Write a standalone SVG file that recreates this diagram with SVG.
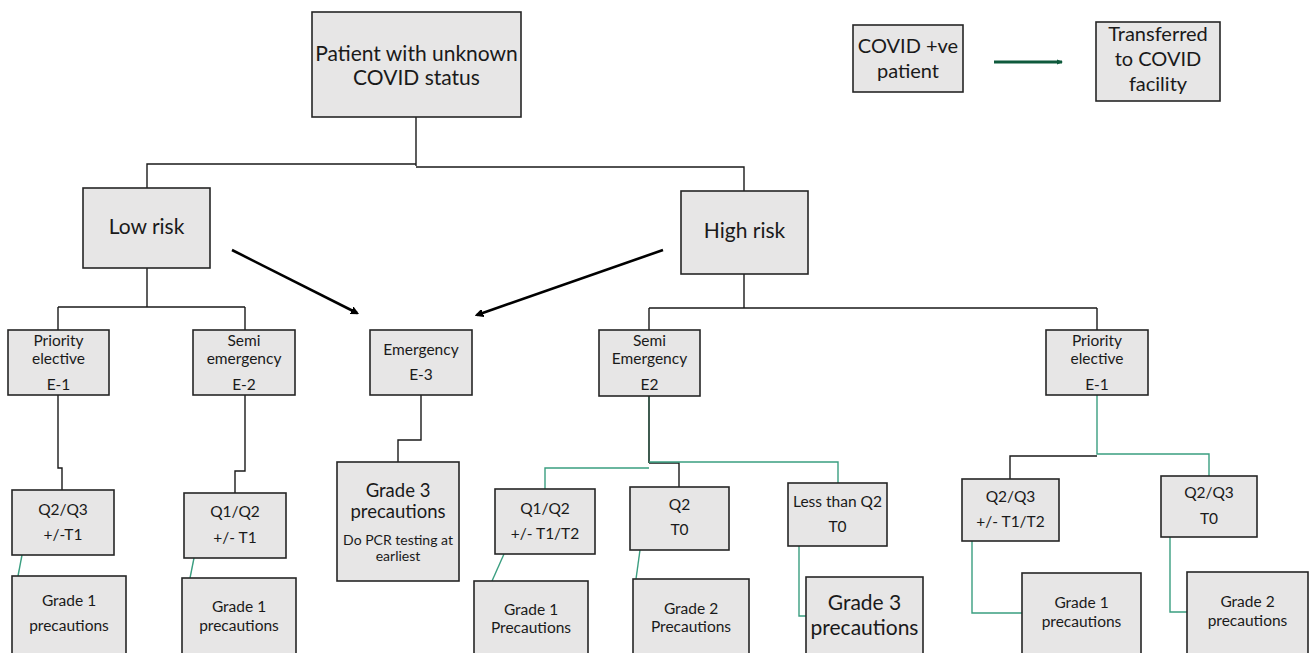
<svg xmlns="http://www.w3.org/2000/svg" width="1310" height="653" viewBox="0 0 1310 653">
<style>
.box{fill:#e7e6e6;stroke:#262626;stroke-width:1.6}
text{font-family:Lato,"Open Sans","Liberation Sans",sans-serif;fill:#1a1a1a;text-anchor:middle}
.s14{font-size:15.5px}
.s19{font-size:21px}
.s18{font-size:20px}
.k{fill:none;stroke:#1a1a1a;stroke-width:1.4}
.g{fill:none;stroke:#3a9e80;stroke-width:1.4}
.a{fill:none;stroke:#000;stroke-width:2.6}
</style>
<defs>
<marker id="ah" markerWidth="8" markerHeight="8" refX="6" refY="4" orient="auto" markerUnits="userSpaceOnUse" viewBox="0 0 8 8">
<path d="M0,0 L8,4 L0,8 z" fill="#000" transform="scale(1.3) translate(-1.5,-0.9)"/>
</marker>
<marker id="gh" markerWidth="6" markerHeight="6" refX="5" refY="3" orient="auto" markerUnits="userSpaceOnUse">
<path d="M0,0.5 L6,3 L0,5.5 z" fill="#0e5a3c"/>
</marker>
</defs>

<g id="connectors">
<path class="k" d="M416,117 V166 M416,164 H147 V188 M416,167 H744 V191"/>
<path class="k" d="M147,268 V307 M58,307 H245 M58,307 V330 M245,307 V330"/>
<path class="k" d="M744,274 V308 M649,308 H1097 M649,308 V330 M1097,308 V330"/>
<path class="k" d="M58,395 V468 H62 V490"/>
<path class="k" d="M245,395 V471 H235 V493"/>
<path class="k" d="M421,395 V440 H398 V462"/>
<path class="g" d="M22,555 L18,576"/>
<path class="g" d="M194,558 L190,578"/>
<path d="M649,396 V463" fill="none" stroke="#0f3324" stroke-width="1.6"/>
<path class="k" d="M649,463 H679 V487"/>
<path class="g" d="M649,468 H545 V489"/>
<path class="g" d="M649,462 H838 V483"/>
<path class="g" d="M504,554 L492,581"/>
<path class="g" d="M640,550 L636,579"/>
<path class="g" d="M799,546 V616 H806"/>
<path class="g" d="M1097,395 V454 H1209 V476"/>
<path class="k" d="M1097,456 H1010 V479"/>
<path class="g" d="M972,541 V613 H1022"/>
<path class="g" d="M1170,537 V612 H1187"/>
<line class="a" x1="232" y1="250" x2="357" y2="313" marker-end="url(#ah)"/>
<line class="a" x1="663" y1="250" x2="477" y2="315" marker-end="url(#ah)"/>
<line x1="994" y1="62" x2="1062" y2="62" stroke="#0e5a3c" stroke-width="3" marker-end="url(#gh)"/>
</g>

<g id="n-patient">
<rect class="box" x="312" y="12" width="209" height="105"/>
<text class="s19" x="416.5" y="61">Patient with unknown</text>
<text class="s19" x="416.5" y="85">COVID status</text>
</g>

<g id="n-covid-pos">
<rect class="box" x="853" y="25" width="110" height="67"/>
<text class="s18" x="908" y="53">COVID +ve</text>
<text class="s18" x="908" y="78">patient</text>
</g>

<g id="n-transferred">
<rect class="box" x="1096" y="22" width="124" height="79"/>
<text class="s18" x="1158" y="41">Transferred</text>
<text class="s18" x="1158" y="66">to COVID</text>
<text class="s18" x="1158" y="91">facility</text>
</g>

<g id="n-low">
<rect class="box" x="83" y="188" width="127" height="80"/>
<text class="s19" x="146.5" y="234">Low risk</text>
</g>

<g id="n-high">
<rect class="box" x="681" y="191" width="127" height="83"/>
<text class="s19" x="744.5" y="238">High risk</text>
</g>

<g id="n-low-e1">
<rect class="box" x="8" y="330" width="101" height="65"/>
<text class="s14" x="58.5" y="346">Priority</text>
<text class="s14" x="58.5" y="364">elective</text>
<text class="s14" x="58.5" y="390">E-1</text>
</g>

<g id="n-low-e2">
<rect class="box" x="193" y="330" width="102" height="65"/>
<text class="s14" x="244" y="346">Semi</text>
<text class="s14" x="244" y="364">emergency</text>
<text class="s14" x="244" y="390">E-2</text>
</g>

<g id="n-e3">
<rect class="box" x="370" y="330" width="102" height="65"/>
<text class="s14" x="421" y="355">Emergency</text>
<text class="s14" x="421" y="380">E-3</text>
</g>

<g id="n-high-e2">
<rect class="box" x="599" y="330" width="101" height="66"/>
<text class="s14" x="649.5" y="346">Semi</text>
<text class="s14" x="649.5" y="364">Emergency</text>
<text class="s14" x="649.5" y="390">E2</text>
</g>

<g id="n-high-e1">
<rect class="box" x="1046" y="330" width="102" height="65"/>
<text class="s14" x="1097" y="346">Priority</text>
<text class="s14" x="1097" y="364">elective</text>
<text class="s14" x="1097" y="390">E-1</text>
</g>

<g id="n-q23-t1">
<rect class="box" x="12" y="490" width="102" height="65"/>
<text class="s14" x="63" y="515">Q2/Q3</text>
<text class="s14" x="63" y="540">+/-T1</text>
</g>

<g id="n-q12-t1">
<rect class="box" x="184" y="493" width="102" height="65"/>
<text class="s14" x="235" y="517">Q1/Q2</text>
<text class="s14" x="235" y="543">+/- T1</text>
</g>

<g id="n-g1-a">
<rect class="box" x="12" y="576" width="114" height="80"/>
<text class="s14" x="69" y="606">Grade 1</text>
<text class="s14" x="69" y="631">precautions</text>
</g>

<g id="n-g1-b">
<rect class="box" x="182" y="578" width="114" height="78"/>
<text class="s14" x="239" y="612">Grade 1</text>
<text class="s14" x="239" y="631">precautions</text>
</g>

<g id="n-g3-pcr">
<rect class="box" x="337" y="462" width="122" height="119"/>
<text style="font-size:18.5px" x="398" y="497">Grade 3</text>
<text style="font-size:18.5px" x="398" y="518">precautions</text>
<text style="font-size:14px" x="398" y="545">Do PCR testing at</text>
<text style="font-size:14px" x="398" y="561">earliest</text>
</g>

<g id="n-q12-t12">
<rect class="box" x="495" y="489" width="100" height="65"/>
<text class="s14" x="545" y="514">Q1/Q2</text>
<text class="s14" x="545" y="539">+/- T1/T2</text>
</g>

<g id="n-q2-t0">
<rect class="box" x="630" y="487" width="99" height="63"/>
<text class="s14" x="679.5" y="510">Q2</text>
<text class="s14" x="679.5" y="535">T0</text>
</g>

<g id="n-lt-q2">
<rect class="box" x="788" y="483" width="99" height="63"/>
<text class="s14" x="837.5" y="507">Less than Q2</text>
<text class="s14" x="837.5" y="532">T0</text>
</g>

<g id="n-g1-c">
<rect class="box" x="474" y="581" width="114" height="75"/>
<text class="s14" x="531" y="615">Grade 1</text>
<text class="s14" x="531" y="633">Precautions</text>
</g>

<g id="n-g2-c">
<rect class="box" x="633" y="579" width="116" height="77"/>
<text class="s14" x="691" y="614">Grade 2</text>
<text class="s14" x="691" y="632">Precautions</text>
</g>

<g id="n-g3-c">
<rect class="box" x="806" y="577" width="117" height="79"/>
<text class="s19" x="864.5" y="610">Grade 3</text>
<text class="s19" x="864.5" y="635">precautions</text>
</g>

<g id="n-q23-t12">
<rect class="box" x="962" y="479" width="97" height="62"/>
<text class="s14" x="1010.5" y="502">Q2/Q3</text>
<text class="s14" x="1010.5" y="527">+/- T1/T2</text>
</g>

<g id="n-q23-t0">
<rect class="box" x="1161" y="476" width="96" height="61"/>
<text class="s14" x="1209" y="498">Q2/Q3</text>
<text class="s14" x="1209" y="524">T0</text>
</g>

<g id="n-g1-d">
<rect class="box" x="1022" y="573" width="119" height="83"/>
<text class="s14" x="1081.5" y="608">Grade 1</text>
<text class="s14" x="1081.5" y="627">precautions</text>
</g>

<g id="n-g2-d">
<rect class="box" x="1187" y="572" width="121" height="84"/>
<text class="s14" x="1247.5" y="607">Grade 2</text>
<text class="s14" x="1247.5" y="626">precautions</text>
</g>
</svg>
